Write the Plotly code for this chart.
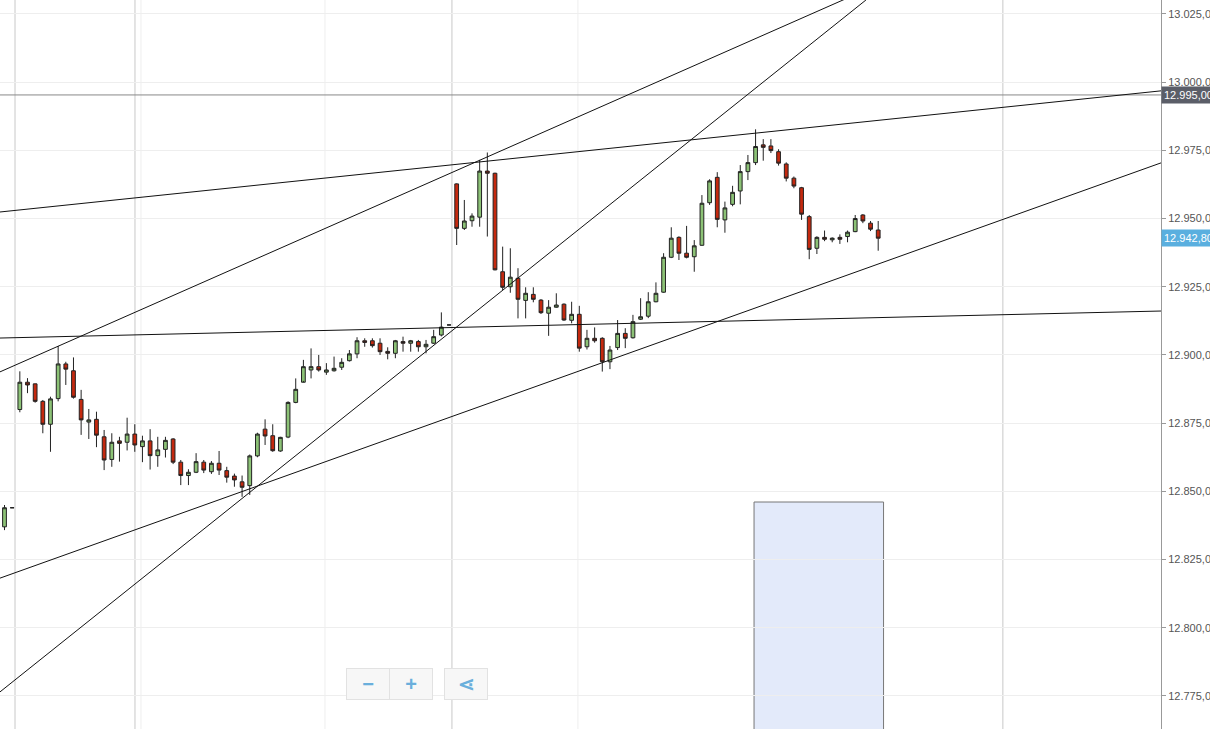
import plotly.graph_objects as go

# OHLC per slot (slot index = x position)
opens = [12837, 12844, 12880, 12890, 12889.4, 12883, 12874.6, 12884, 12896.7, 12894.2,
         12883.7, 12875.4, 12876.4, 12870, 12861.7, 12868.5, 12868, 12871, 12866.4, 12868.5,
         12863.1, 12865.4, 12869.2, 12860.7, 12855.8, 12857, 12860.7, 12857.2, 12860.3, 12857.6,
         12855.6, 12853.5, 12852.1, 12863, 12872.8, 12870.4, 12864.8, 12869.9, 12882.6, 12890,
         12894.5, 12895.7, 12893.7, 12894.2, 12895.5, 12897.9, 12900.4, 12905.2, 12905.2, 12904.3,
         12901.3, 12900.6, 12904.9, 12904.3, 12904.9, 12903, 12904.3, 12907.3, 12911, 12962.7,
         12946.4, 12949.2, 12950.5, 12967.4, 12966.6, 12930.5, 12925, 12928.1, 12920, 12922.2,
         12920.1, 12915.3, 12917.5, 12918.6, 12912.7, 12914.9, 12903, 12906.1, 12906.1, 12897.5,
         12902.7, 12907.9, 12906.3, 12913.1, 12914.2, 12919.5, 12923, 12935.8, 12943.1, 12937.3,
         12936, 12940.2, 12955.8, 12965.1, 12949.5, 12955.2, 12960.1, 12967.2, 12970.5, 12977,
         12976.6, 12974.5, 12970, 12964.8, 12961.3, 12950.7, 12939.1, 12943.1, 12942.2, 12943.1,
         12943.4, 12945.2, 12951.3, 12948.3, 12945.8]
highs = [12845, 12844, 12894, 12891.5, 12889.5, 12883.5, 12884.7, 12903.3, 12897.5, 12899.1,
         12887.2, 12880.2, 12879.2, 12872.5, 12871.3, 12870, 12877, 12874.6, 12870.4, 12872.8,
         12870, 12870, 12869.5, 12861.5, 12858.1, 12864, 12861.5, 12861.1, 12864.8, 12859,
         12856.5, 12855.8, 12863.5, 12871.5, 12876.4, 12874.6, 12870, 12883, 12891.4, 12898.2,
         12902.4, 12900, 12897, 12899.4, 12898.8, 12901.8, 12906.5, 12906.1, 12906.1, 12906.1,
         12902.8, 12905.5, 12906.7, 12905.5, 12905.5, 12905.5, 12909.2, 12915.6, 12911, 12962.9,
         12956.8, 12951.9, 12971.5, 12974.2, 12966.8, 12939.7, 12939.1, 12931.8, 12924.8, 12924.8,
         12920.5, 12920.1, 12922.6, 12918.9, 12919.5, 12918, 12909.2, 12910.1, 12906.5, 12903.3,
         12912.8, 12909.8, 12914.7, 12920.8, 12923, 12926.6, 12937.3, 12946.8, 12943.5, 12947.3,
         12942.1, 12958.6, 12964.4, 12967, 12956.2, 12962, 12969.6, 12973.3, 12982.7, 12979.1,
         12979.1, 12975.4, 12970.6, 12965.4, 12961.6, 12951.3, 12943.5, 12945.6, 12943.1, 12944.2,
         12945.6, 12951.3, 12951.6, 12949.1, 12949.1]
lows = [12835.8, 12844, 12879, 12886, 12882.5, 12871.3, 12864.5, 12883, 12889, 12884,
        12870.7, 12869.2, 12866.2, 12857.8, 12859, 12860.9, 12865, 12864.5, 12860.7, 12858,
        12859, 12862.4, 12860, 12852.3, 12852.3, 12856.7, 12856.7, 12856.4, 12856, 12853.2,
        12851.7, 12848, 12848.7, 12862.5, 12867, 12864.5, 12864.5, 12869.5, 12882.3, 12890.5,
        12891.4, 12893.9, 12892.7, 12893.9, 12894.5, 12897.6, 12898.8, 12903, 12902.7, 12900,
        12898.4, 12898.8, 12901.2, 12901.2, 12901.2, 12900.6, 12904, 12906.8, 12911, 12940.3,
        12945.8, 12947, 12947, 12943.4, 12931, 12923.8, 12922.8, 12913.4, 12913.4, 12919.3,
        12915, 12907, 12917.3, 12912.5, 12911.6, 12901.2, 12902, 12904.5, 12893.9, 12894.8,
        12901.8, 12902.5, 12906, 12912.8, 12913.5, 12919.3, 12922.8, 12935.5, 12934.8, 12935.4,
        12930.5, 12940, 12955, 12946.8, 12944.8, 12954.5, 12955.2, 12964.1, 12969.6, 12971.2,
        12974, 12969.4, 12963.6, 12961.1, 12949.5, 12935.1, 12937, 12941.7, 12941.3, 12940.7,
        12941.3, 12945, 12948.3, 12945.4, 12938.2]
closes = [12844, 12844, 12890, 12889, 12883, 12874.6, 12883.9, 12896.7, 12894.8, 12884.5,
          12876.2, 12876.2, 12870.6, 12861.5, 12868, 12867.6, 12871, 12867, 12868.5, 12863.1,
          12865.2, 12868.7, 12860.7, 12855.8, 12857, 12860.9, 12857.8, 12860.3, 12857.8, 12855.2,
          12854.2, 12851.5, 12863, 12871, 12870.3, 12864.9, 12869.8, 12882.6, 12887.4, 12895.7,
          12895.7, 12894.5, 12894.5, 12895.1, 12897.3, 12900.4, 12905.2, 12904.6, 12903.4, 12901.2,
          12900.6, 12905.2, 12904.3, 12905.2, 12903, 12903.9, 12906.7, 12910.2, 12911, 12946.4,
          12949.1, 12950.9, 12967.4, 12966.6, 12931.2, 12924.8, 12928.5, 12920.4, 12922.6, 12920.4,
          12915.5, 12917.5, 12918.3, 12912.8, 12914.9, 12902.5, 12906.1, 12905.2, 12897.5, 12901.8,
          12907.9, 12906.1, 12912.2, 12914, 12919.5, 12922.6, 12935.8, 12942.8, 12937.3, 12935.8,
          12940, 12955.6, 12963.8, 12949.7, 12953.9, 12959.6, 12967.2, 12970.5, 12976.4, 12976.1,
          12974.9, 12970.3, 12964.8, 12961.9, 12951.6, 12938.7, 12943.1, 12942.4, 12942.8, 12942.4,
          12945, 12950, 12949.1, 12946.1, 12942.8]
slots = list(range(len(opens)))

# trend lines: (x0, y0, x1, y1) in slot / price units
trend_lines = [(-0.587, 12952.4, 150.9, 12996.8),
               (-0.587, 12893.8, 110.05, 13030.9),
               (-0.587, 12776.5, 112.4, 13030.1),
               (-0.587, 12818.2, 150.9, 12970.4),
               (-0.587, 12906.2, 150.9, 12916.1)]
level_price = 12995.3
last_price = 12942.8
box = (97.8, 114.7, 12846.1)
tick_vals = [12775, 12800, 12825, 12850, 12875, 12900, 12925, 12950, 12975, 13000, 13025]
tick_text = ["12.775,00", "12.800,00", "12.825,00", "12.850,00", "12.875,00", "12.900,00",
             "12.925,00", "12.950,00", "12.975,00", "13.000,00", "13.025,00"]
dark_vlines = [15, 135, 452, 1003]
light_vlines = [141, 325, 578]

X0, X1 = -0.587, 150.9
Y0, Y1 = 12762.9, 13030.1
px = lambda p: (p - 4.5) / 7.665

fig = go.Figure()
fig.add_trace(go.Candlestick(
    x=slots, open=opens, high=highs, low=lows, close=closes,
    increasing=dict(line=dict(color="#222222", width=1), fillcolor="#8cc276"),
    decreasing=dict(line=dict(color="#222222", width=1), fillcolor="#c4290f"),
    whiskerwidth=0, showlegend=False, hoverinfo="skip"))

shapes = []
for v in light_vlines:
    shapes.append(dict(type="line", xref="x", yref="paper", x0=px(v), x1=px(v), y0=0, y1=1,
                       line=dict(color="#eeeeee", width=1), layer="below"))
for v in dark_vlines:
    shapes.append(dict(type="line", xref="x", yref="paper", x0=px(v), x1=px(v), y0=0, y1=1,
                       line=dict(color="#c8c8c8", width=1), layer="below"))
shapes.append(dict(type="rect", x0=box[0], x1=box[1], y0=Y0 - 5, y1=box[2],
                   fillcolor="#e3eafa", line=dict(color="#777777", width=1), layer="below"))
shapes.append(dict(type="line", xref="paper", x0=0, x1=1, y0=level_price, y1=level_price,
                   line=dict(color="#888888", width=1)))
for x0, y0, x1, y1 in trend_lines:
    shapes.append(dict(type="line", x0=x0, y0=y0, x1=x1, y1=y1, line=dict(color="#111111", width=1)))

btn = dict(xref="paper", yref="paper", showarrow=False, height=28, xanchor="center",
           yanchor="middle", bgcolor="#f7f7f7", bordercolor="#e2e2e2",
           font=dict(color="#6aafdc", size=20))
annotations = [
    dict(xref="paper", x=1.0, y=level_price, text="12.995,00", showarrow=False, xanchor="left",
         bgcolor="#5b5e68", font=dict(color="white", size=11, family="Arial"), borderpad=2),
    dict(xref="paper", x=1.0, y=last_price, text="12.942,80", showarrow=False, xanchor="left",
         bgcolor="#5aafdf", font=dict(color="white", size=11, family="Arial"), borderpad=2),
    dict(btn, x=368 / 1161, y=45 / 729, text="<b>−</b>", width=40),
    dict(btn, x=411 / 1161, y=45 / 729, text="<b>+</b>", width=40),
    dict(btn, x=466 / 1161, y=45 / 729, text="<b>⋖</b>", width=40),
]

fig.update_layout(
    width=1210, height=729, margin=dict(l=0, r=49, t=0, b=0),
    plot_bgcolor="white", paper_bgcolor="white",
    font=dict(family="Arial", size=11, color="#555555"),
    shapes=shapes, annotations=annotations,
    xaxis=dict(range=[X0, X1], showgrid=False, showticklabels=False, zeroline=False,
               rangeslider=dict(visible=False), fixedrange=True),
    yaxis=dict(range=[Y0, Y1], side="right", tickvals=tick_vals, ticktext=tick_text,
               gridcolor="#eeeeee", showline=True, linecolor="#999999", ticks="outside",
               ticklen=4, tickcolor="#999999", zeroline=False, automargin=False),
)
fig.write_html("out.html", config={"displayModeBar": False},
               post_script="document.body.style.margin='0';")
